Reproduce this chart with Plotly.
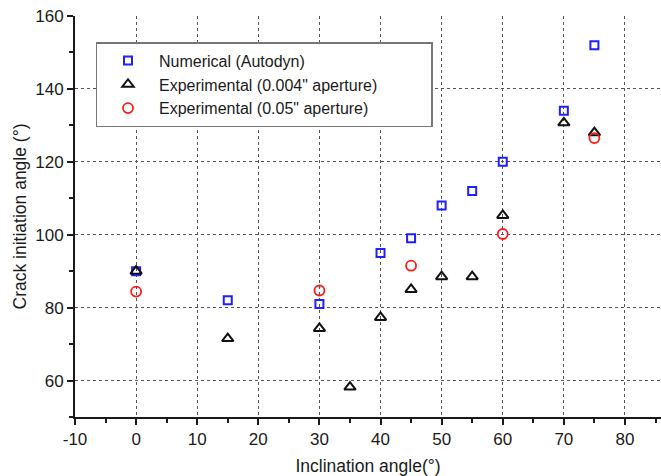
import plotly.graph_objects as go

# Inclination angle (deg) vs. crack initiation angle (deg)
num_x = [0, 15, 30, 40, 45, 50, 55, 60, 70, 75]
num_y = [90, 82, 81, 95, 99, 108, 112, 120, 134, 152]

exp004_x = [0, 15, 30, 35, 40, 45, 50, 55, 60, 70, 75]
exp004_y = [90, 71.5, 74.3, 58.2, 77.3, 85, 88.5, 88.5, 105.3, 130.7, 128]

exp05_x = [0, 30, 45, 60, 75]
exp05_y = [84.4, 84.7, 91.5, 100.2, 126.5]

series_names = [
    "Numerical (Autodyn)",
    "Experimental (0.004\" aperture)",
    "Experimental (0.05\" aperture)",
]

x_ticks = [-10, 0, 10, 20, 30, 40, 50, 60, 70, 80]
y_ticks = [60, 80, 100, 120, 140, 160]
y_grid = [60, 80, 100, 120, 140]

FONT = "Liberation Sans, Arial, sans-serif"
INK = "#1a1a1a"

fig = go.Figure()
# empty carrier so the grid-only overlay axis gets drawn
fig.add_trace(go.Scatter(x=[], y=[], yaxis="y2", showlegend=False,
                         hoverinfo="skip"))
fig.add_trace(go.Scatter(
    x=num_x, y=num_y, mode="markers", name=series_names[0],
    marker=dict(symbol="square-open", size=8, color="#1f1fff",
                line=dict(width=2, color="#1f1fff")),
))
fig.add_trace(go.Scatter(
    x=exp004_x, y=exp004_y, mode="markers", name=series_names[1],
    marker=dict(symbol="triangle-up-open", size=10, color="#111111",
                line=dict(width=2, color="#111111")),
))
fig.add_trace(go.Scatter(
    x=exp05_x, y=exp05_y, mode="markers", name=series_names[2],
    marker=dict(symbol="circle-open", size=10, color="#ff1a1a",
                line=dict(width=1.8, color="#ff1a1a")),
))

axis_common = dict(
    showline=True, linecolor=INK, linewidth=2,
    ticks="outside", ticklen=6, tickwidth=2, tickcolor=INK,
    zeroline=False, tickfont=dict(size=17, color=INK, family=FONT),
    minor=dict(ticks="outside", ticklen=4, tickwidth=2, tickcolor=INK,
               showgrid=False),
)
grid_style = dict(gridcolor="#555555", gridwidth=1, griddash="dot")

fig.update_xaxes(
    range=[-10, 85.9], tickvals=x_ticks, ticktext=[str(v) for v in x_ticks],
    minor_dtick=5, showgrid=True, **grid_style,
    title=dict(text="Inclination angle(°)", font=dict(size=17.5, color=INK, family=FONT),
               standoff=14),
    **axis_common,
)
fig.update_yaxes(
    range=[50, 160], tickvals=y_ticks, ticktext=[str(v) for v in y_ticks],
    minor_dtick=10, showgrid=False,
    title=dict(text="Crack initiation angle (°)", font=dict(size=17.5, color=INK, family=FONT),
               standoff=4),
    **axis_common,
)

fig.update_layout(
    width=661, height=476,
    margin=dict(l=75, r=0, t=16, b=56),
    paper_bgcolor="white", plot_bgcolor="white",
    font=dict(family=FONT, color=INK),
    # horizontal dotted grid below the top of the axis
    yaxis2=dict(
        overlaying="y", side="left", range=[50, 160], tickvals=y_grid,
        showticklabels=False, ticks="", showline=False, zeroline=False,
        showgrid=True, **grid_style,
    ),
    showlegend=True,
    # fixed-width entries, wrapped one per row
    legend=dict(
        orientation="h", entrywidth=267, entrywidthmode="pixels",
        x=0.035, y=0.935, xanchor="left", yanchor="top",
        bgcolor="white", bordercolor="#777777", borderwidth=1.5,
        font=dict(size=16, color=INK, family=FONT),
        itemwidth=52, tracegroupgap=0,
    ),
)

fig.write_html("out.html")
